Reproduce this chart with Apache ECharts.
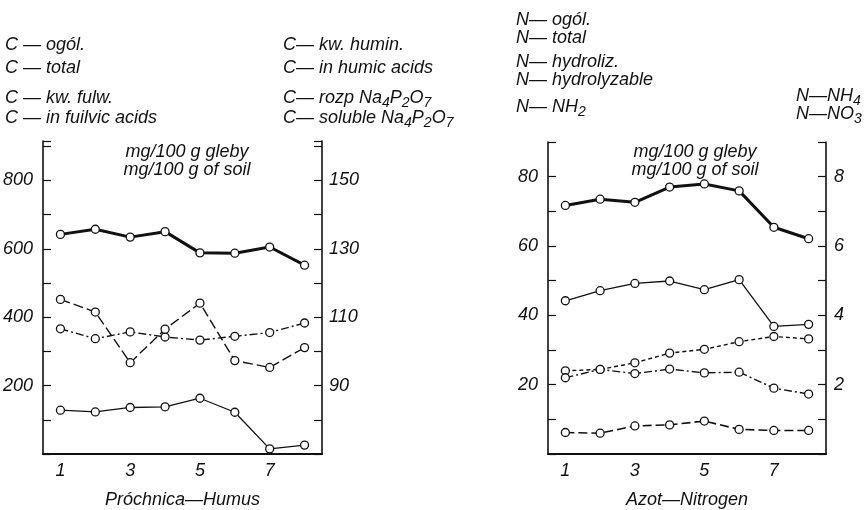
<!DOCTYPE html>
<html>
<head>
<meta charset="utf-8">
<script src="https://cdn.jsdelivr.net/npm/echarts@6/dist/echarts.min.js"></script>
<style>
	html, body { margin: 0; padding: 0; background: #fff; }
	#chart { width: 865px; height: 510px; }
</style>
</head>
<body>
<div id="chart"></div>
<script>
// samples 1..8
var samples = ['1', '2', '3', '4', '5', '6', '7', '8'];

// humus (left panel), left axis in mg, right axis on its own scale
var c_total = [642, 657, 634, 650, 588, 587, 605, 552];
var c_fulvic = [366, 337, 357, 342, 333, 344, 355, 383];
var c_humic = [115.2, 111.5, 96.7, 106.5, 114.1, 97.3, 95.3, 101.1];
var c_soluble = [82.8, 82.3, 83.6, 83.8, 86.3, 82.2, 71.5, 72.6];

// nitrogen (right panel)
var n_total = [71.7, 73.5, 72.6, 77.0, 77.9, 75.9, 65.4, 62.1];
var n_hydro = [44.2, 47.1, 49.2, 49.9, 47.4, 50.3, 36.8, 37.4];
var n_nh2 = [6.2, 6.0, 8.1, 8.4, 9.5, 7.1, 6.8, 6.8];
var n_no3 = [2.40, 2.44, 2.63, 2.91, 3.02, 3.24, 3.39, 3.32];
var n_nh4 = [2.20, 2.44, 2.32, 2.45, 2.34, 2.36, 1.90, 1.73];

// tick labels that are printed
var c_left_labels = [200, 400, 600, 800];
var c_right_labels = [90, 110, 130, 150];
var n_left_labels = [20, 40, 60, 80];
var n_right_labels = [2, 4, 6, 8];

var ink = '#111';
var font = 'Liberation Sans';

var chartDom = document.getElementById('chart');
var myChart = echarts.init(chartDom, null, { renderer: 'canvas' });

function labelsOnly(list) {
	return function (value) {
		return list.indexOf(Math.round(value * 100) / 100) >= 0 ? String(value) : '';
	};
}

function xaxis(grid, name) {
	return {
		type: 'category',
		gridIndex: grid,
		data: samples,
		boundaryGap: true,
		name: name,
		nameLocation: 'middle',
		nameGap: 37,
		nameTextStyle: { color: ink, fontFamily: font, fontStyle: 'italic', fontSize: 18 },
		axisLine: { lineStyle: { color: ink, width: 2 } },
		axisTick: { inside: true, alignWithLabel: true, interval: 0, length: 7, lineStyle: { color: ink, width: 1.2 } },
		axisLabel: { interval: 1, margin: 8, color: ink, fontFamily: font, fontStyle: 'italic', fontSize: 18 },
		splitLine: { show: false }
	};
}

function yaxis(grid, pos, min, max, step, list, margin) {
	return {
		type: 'value',
		gridIndex: grid,
		position: pos,
		min: min,
		max: max,
		interval: step,
		axisLine: { show: true, onZero: false, lineStyle: { color: ink, width: 1.6 } },
		axisTick: { show: true, inside: true, length: 8, lineStyle: { color: ink, width: 1.2 } },
		axisLabel: { margin: margin, color: ink, fontFamily: font, fontStyle: 'italic', fontSize: 18, formatter: labelsOnly(list), showMaxLabel: true, showMinLabel: true },
		splitLine: { show: false }
	};
}

function line(name, data, xi, yi, width, dash) {
	return {
		name: name,
		type: 'line',
		xAxisIndex: xi,
		yAxisIndex: yi,
		data: data,
		symbol: 'circle',
		symbolSize: 8,
		showSymbol: true,
		lineStyle: { color: ink, width: width, type: dash },
		itemStyle: { color: '#fff', borderColor: ink, borderWidth: 1.3 },
		emphasis: { disabled: true }
	};
}

var rich = {
	s: { fontSize: 14, fontFamily: font, fontStyle: 'italic', fill: ink, padding: [10, 0, 0, 0] }
};

function caption(x, y, text, align) {
	return {
		type: 'text',
		x: x,
		y: y,
		style: {
			text: text,
			fill: ink,
			font: 'italic 18px "' + font + '"',
			align: align || 'left',
			verticalAlign: 'middle',
			rich: rich
		}
	};
}

var option = {
	animation: false,
	backgroundColor: '#fff',
	grid: [
		{ left: 43, right: 543, top: 141, bottom: 56, outerBoundsMode: 'none' },
		{ left: 548, right: 39, top: 142, bottom: 56, outerBoundsMode: 'none' }
	],
	xAxis: [
		xaxis(0, 'Próchnica—Humus'),
		xaxis(1, 'Azot—Nitrogen')
	],
	yAxis: [
		yaxis(0, 'left', 0, 915, 100, c_left_labels, 10),
		yaxis(0, 'right', 70, 161.5, 10, c_right_labels, 7),
		yaxis(1, 'left', 0, 90, 10, n_left_labels, 10),
		yaxis(1, 'right', 0, 9, 1, n_right_labels, 8)
	],
	series: [
		line('C - total', c_total, 0, 0, 3, 'solid'),
		line('C - in fulvic acids', c_fulvic, 0, 0, 1.4, [8, 3, 2, 3]),
		line('C - in humic acids', c_humic, 0, 1, 1.4, [10, 4]),
		line('C - soluble Na4P2O7', c_soluble, 0, 1, 1.3, 'solid'),

		line('N - total', n_total, 1, 2, 3, 'solid'),
		line('N - hydrolyzable', n_hydro, 1, 2, 1.3, 'solid'),
		line('N - NH2', n_nh2, 1, 2, 1.6, [9, 4]),
		line('N - NO3', n_no3, 1, 3, 1.4, [4, 3]),
		line('N - NH4', n_nh4, 1, 3, 1.4, [8, 3, 2, 3])
	],
	graphic: [
		caption(5, 45, 'C — ogól.'),
		caption(5, 68, 'C — total'),
		caption(5, 98, 'C — kw. fulw.'),
		caption(5, 118, 'C — in fuilvic acids'),

		caption(283, 45, 'C— kw. humin.'),
		caption(283, 68, 'C— in humic acids'),
		caption(283, 98, 'C— rozp Na{s|4}P{s|2}O{s|7}'),
		caption(283, 118, 'C— soluble Na{s|4}P{s|2}O{s|7}'),

		caption(516, 20, 'N— ogól.'),
		caption(516, 38, 'N— total'),
		caption(516, 62, 'N— hydroliz.'),
		caption(516, 80, 'N— hydrolyzable'),
		caption(516, 107, 'N— NH{s|2}'),

		caption(796, 96, 'N—NH{s|4}'),
		caption(796, 114, 'N—NO{s|3}'),

		caption(187, 152, 'mg/100 g gleby', 'center'),
		caption(187, 170, 'mg/100 g of soil', 'center'),
		caption(695, 152, 'mg/100 g gleby', 'center'),
		caption(695, 170, 'mg/100 g of soil', 'center')
	]
};

myChart.setOption(option);
</script>
</body>
</html>
